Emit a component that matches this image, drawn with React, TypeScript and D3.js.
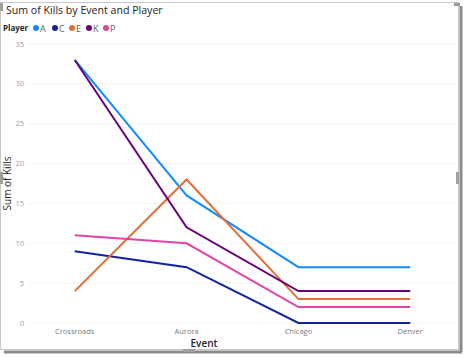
import React from "react";
import * as d3 from "d3";

const events = ["Crossroads", "Aurora", "Chicago", "Denver"];
const players = ["A", "C", "E", "K", "P"];
const colors = ["#118DFF", "#12239E", "#E66C37", "#6B007B", "#E044A7"];
const killsA = [33, 16, 7, 7];
const killsC = [9, 7, 0, 0];
const killsE = [4, 18, 3, 3];
const killsK = [33, 12, 4, 4];
const killsP = [11, 10, 2, 2];
const yTicks = [0, 5, 10, 15, 20, 25, 30, 35];

const seriesValues = [killsA, killsC, killsE, killsK, killsP];

export default function App() {
  const W = 465, H = 357;
  const x = d3.scalePoint<string>().domain(events).range([30, 455]).padding(0.4);
  const y = d3.scaleLinear().domain([0, 35]).range([323, 44]);
  const line = d3
    .line<number>()
    .x((_, i) => x(events[i]) as number)
    .y((d) => y(d));
  const font = "'Segoe UI', 'Open Sans', 'DejaVu Sans', sans-serif";
  const legendX = [36, 55, 72, 89, 106];
  return (
    <svg
      width={W}
      height={H}
      style={{ position: "absolute", left: 0, top: 0, background: "#fff" }}
      fontFamily={font}
    >
      {/* frame */}
      <rect x={0.5} y={2.5} width={458} height={347} fill="none" stroke="#c8c8c8" />
      <line x1={461} y1={6} x2={461} y2={352} stroke="#8a8a8a" strokeWidth={3} />
      <line x1={4} y1={352} x2={462} y2={352} stroke="#8a8a8a" strokeWidth={3} />
      <rect x={454} y={3} width={6} height={3} fill="#9a9a9a" />
      <rect x={456} y={172} width={3} height={12} fill="#a0a0a0" />
      <rect x={183} y={349} width={12} height={3} fill="#a0a0a0" />
      <rect x={0} y={172} width={3} height={12} fill="#a0a0a0" />
      <rect x={0} y={3} width={3} height={8} fill="#a0a0a0" />

      <text x={6} y={14} fontSize={10.6} fill="#252423">
        Sum of Kills by Event and Player
      </text>
      <text x={3} y={31} fontSize={8} fontWeight="bold" fill="#252423">
        Player
      </text>
      {players.map((p, i) => (
        <g key={p}>
          <circle cx={legendX[i]} cy={28} r={3} fill={colors[i]} />
          <text x={legendX[i] + 4} y={31.5} fontSize={9} fill="#605E5C">
            {p}
          </text>
        </g>
      ))}

      {yTicks.map((t) => (
        <g key={t}>
          <line
            x1={30}
            x2={455}
            y1={y(t)}
            y2={y(t)}
            stroke="#d6d6d6"
            strokeDasharray="1,3"
          />
          <text x={24} y={y(t) + 2.5} fontSize={7.5} fill="#a0a0a0" textAnchor="end">
            {t}
          </text>
        </g>
      ))}
      <text
        transform={`translate(11,${y(17.5)}) rotate(-90)`}
        fontSize={10}
        textAnchor="middle"
        fill="#252423"
      >
        Sum of Kills
      </text>

      {events.map((e) => (
        <text key={e} x={x(e)} y={334} fontSize={7.5} fill="#7a7a7a" textAnchor="middle">
          {e}
        </text>
      ))}
      <text x={204} y={347} fontSize={10} fontWeight={600} fill="#252423" textAnchor="middle">
        Event
      </text>

      {seriesValues.map((vals, i) => (
        <path
          key={players[i]}
          d={line(vals) as string}
          fill="none"
          stroke={colors[i]}
          strokeWidth={2}
        />
      ))}
    </svg>
  );
}
